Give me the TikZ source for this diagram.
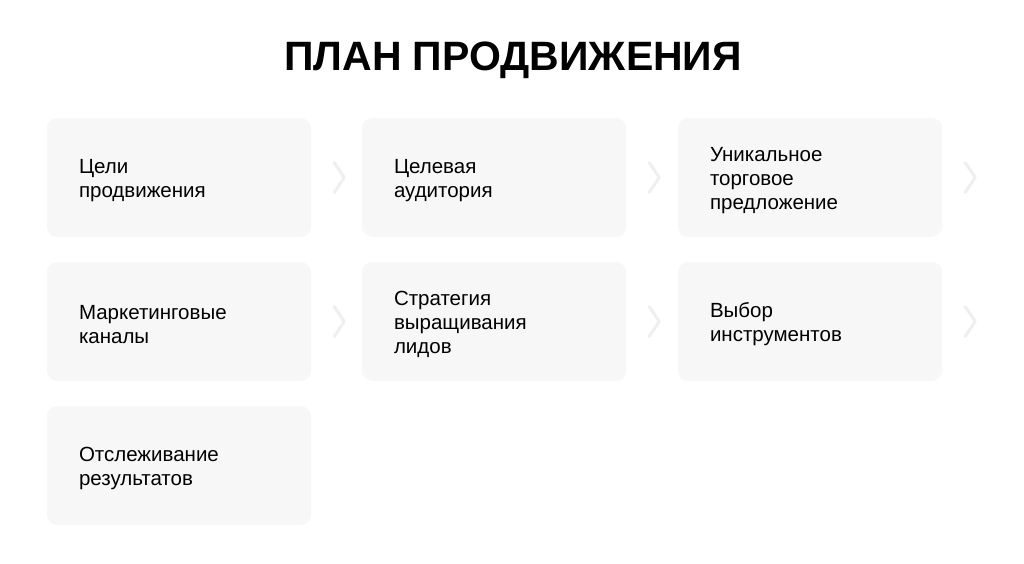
\documentclass[tikz,border=0pt]{standalone}
\usepackage{fontspec}
\setmainfont{Liberation Sans}
\newfontfamily\titlefont{Liberation Sans}
\definecolor{boxfill}{HTML}{F7F7F7}
\definecolor{chev}{HTML}{EFEFEF}
\tikzset{
  card/.style={fill=boxfill, draw=none, rounded corners=10pt, minimum width=264pt, minimum height=119pt, inner sep=0pt},
  cardtext/.style={anchor=west, align=left, font=\fontsize{20.5}{24}\selectfont, inner sep=0pt, text=black},
  chevron/.style={draw=chev, line width=3pt, line cap=round, line join=round}
}
\begin{document}
\begin{tikzpicture}[x=1pt,y=-1pt]
\useasboundingbox (0,0) rectangle (1024,564);
\node[font=\titlefont\bfseries\fontsize{41}{48}\selectfont, inner sep=0pt] (title) at (513,60) {ПЛАН ПРОДВИЖЕНИЯ};
% row 1
\node[card] (b1) at (179,177.5) {};
\node[card] (b2) at (494,177.5) {};
\node[card] (b3) at (810,177.5) {};
% row 2
\node[card] (b4) at (179,321.5) {};
\node[card] (b5) at (494,321.5) {};
\node[card] (b6) at (810,321.5) {};
% row 3
\node[card] (b7) at (179,465.5) {};
\node[cardtext] (t1) at ([xshift=32pt,yshift=-3pt]b1.west) {Цели\\продвижения};
\node[cardtext] (t2) at ([xshift=32pt,yshift=-3pt]b2.west) {Целевая\\аудитория};
\node[cardtext] (t3) at ([xshift=32pt,yshift=-3pt]b3.west) {Уникальное\\торговое\\предложение};
\node[cardtext] (t4) at ([xshift=32pt,yshift=-3pt]b4.west) {Маркетинговые\\каналы};
\node[cardtext] (t5) at ([xshift=32pt,yshift=-3pt]b5.west) {Стратегия\\выращивания\\лидов};
\node[cardtext] (t6) at ([xshift=32pt,yshift=-3pt]b6.west) {Выбор\\инструментов};
\node[cardtext] (t7) at ([xshift=32pt,yshift=-3pt]b7.west) {Отслеживание\\результатов};
% chevrons
\foreach \b in {b1,b2,b3,b4,b5,b6}{
  \draw[chevron] ([xshift=23pt,yshift=15pt]\b.east) -- ([xshift=33pt]\b.east) -- ([xshift=23pt,yshift=-15pt]\b.east);
}
\end{tikzpicture}
\end{document}
